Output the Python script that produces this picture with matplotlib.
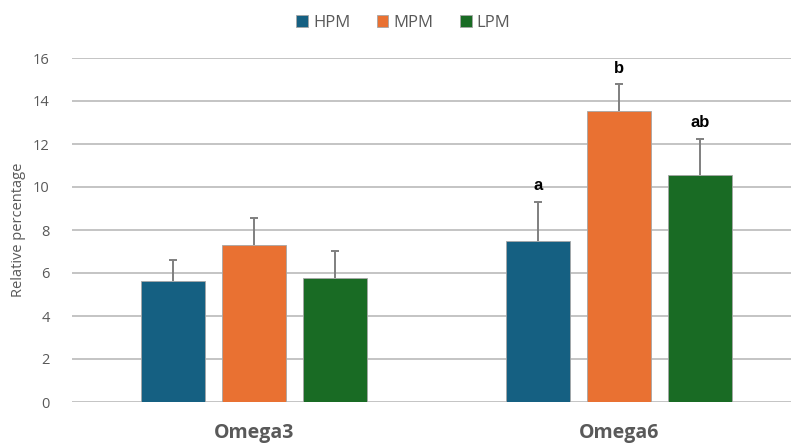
import matplotlib
matplotlib.use("Agg")
import matplotlib.pyplot as plt
import numpy as np

plt.rcParams['font.family'] = ['Open Sans', 'DejaVu Sans']

# data
categories = ["Omega3", "Omega6"]
groups = ["HPM", "MPM", "LPM"]
means = {
    "HPM": [5.62, 7.48],
    "MPM": [7.29, 13.55],
    "LPM": [5.76, 10.54],
}
err_up = {
    "HPM": [0.98, 1.82],
    "MPM": [1.25, 1.22],
    "LPM": [1.27, 1.70],
}
letters = {
    "HPM": ["", "a"],
    "MPM": ["", "b"],
    "LPM": ["", "ab"],
}
colors = {"HPM": "#156082", "MPM": "#E97132", "LPM": "#196B24"}

fig = plt.figure(figsize=(7.91, 4.43), dpi=100)
ax = fig.add_axes([72 / 791, 41 / 443, 719 / 791, 344 / 443])

x = np.arange(len(categories))
width = 0.175
offsets = {"HPM": -0.222, "MPM": 0.0, "LPM": 0.222}

for g in groups:
    xs = x + offsets[g]
    m = np.array(means[g])
    tops = m + np.array(err_up[g])
    ax.bar(xs, m, width, color=colors[g], edgecolor="#a6a6a6", linewidth=0.6,
           label=g, zorder=3)
    # upper-only error bars: stem plus a cap at the top
    ax.vlines(xs, m, tops, color="#7f7f7f", linewidth=1.4, zorder=4)
    ax.plot(xs, tops, linestyle="none", marker="_", markersize=6,
            markeredgewidth=1.4, color="#7f7f7f", zorder=4)
    for xi, top, lab in zip(xs, tops, letters[g]):
        if lab:
            ax.text(xi, top + 0.4, lab, ha="center", va="bottom",
                    fontsize=12, fontweight="bold", color="#000000",
                    family=["Liberation Sans", "DejaVu Sans"])

ax.set_xlim(-0.5, 1.472)
ax.set_ylim(0, 16)
ax.set_yticks(np.arange(0, 17, 2))
ax.set_xticks(x)
ax.set_xticklabels(categories, fontsize=14, fontweight="bold", color="#595959")
ax.tick_params(axis="x", length=0, pad=15)
ax.tick_params(axis="y", length=0, pad=16, labelsize=10.5, labelcolor="#595959")
ax.yaxis.grid(True, color="#bfbfbf", linewidth=1.3, zorder=0)
ax.set_axisbelow(True)
for s in ax.spines.values():
    s.set_visible(False)

ax.set_ylabel("Relative percentage", fontsize=10.5, color="#595959", labelpad=5)

leg = fig.legend(loc="upper center", bbox_to_anchor=(0.51, 1.0), ncol=3,
                 frameon=False, fontsize=12, handlelength=0.7, handleheight=0.7,
                 handletextpad=0.3, columnspacing=1.6)
for t in leg.get_texts():
    t.set_color("#595959")

fig.savefig("out.png", dpi=100)
